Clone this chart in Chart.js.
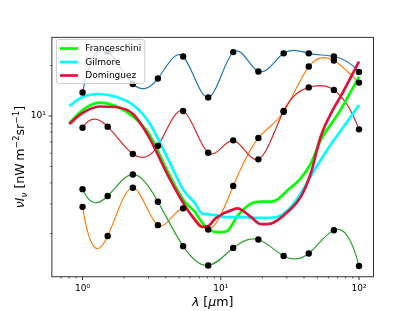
<!DOCTYPE html>
<html>
<head>
<meta charset="utf-8">
<script src="https://cdn.jsdelivr.net/npm/chart.js@4/dist/chart.umd.min.js"></script>
<style>
  html, body { margin: 0; padding: 0; background: #fff; }
</style>
</head>
<body>
<canvas id="myChart" width="415" height="311"></canvas>
<script>
// wavelengths of the measured points (um)
const lambdas = [1, 1.52, 2.31, 3.51, 5.34, 8.11, 12.3, 18.7, 28.5, 43.3, 65.8, 100];

// the four thin spline series (nW m^-2 sr^-1)
const seriesBlue   = [13.8, 24.2, 15.5, 16.7, 22.6, 12.9, 24.0, 18.4, 23.6, 23.6, 22.6, 18.3];
const seriesOrange = [2.88, 1.93, 3.74, 2.24, 2.82, 2.11, 3.83, 7.39, 10.6, 19.7, 21.4, 15.8];
const seriesGreen  = [3.67, 3.34, 4.49, 3.09, 1.68, 1.29, 1.64, 1.84, 1.47, 1.52, 2.09, 1.28];
const seriesRed    = [8.52, 8.64, 5.94, 6.65, 10.7, 6.04, 7.16, 5.52, 10.7, 14.8, 14.3, 8.33];

// EBL models, read along a common wavelength grid
const modelLambdas = [0.8, 1.0, 1.32, 1.73, 2.32, 3.01, 4.19, 5.37, 6.51, 7.27, 8.12, 9.06, 10.1,
                      11.3, 13.3, 14.9, 16.6, 19.6, 23.1, 25.8, 30.5, 37.9, 44.8, 52.8, 65.8, 73.5, 100];
const franceschini = [9.05, 10.86, 12.0, 11.47, 9.90, 7.88, 4.56, 3.16, 2.68, 2.34, 2.12, 2.04, 2.035,
                      2.09, 2.57, 2.82, 3.02, 3.09, 3.09, 3.19, 3.62, 4.25, 5.22, 7.19, 9.47, 10.86, 17.15];
const gilmore      = [11.47, 12.98, 13.52, 13.03, 11.63, 9.21, 5.47, 3.62, 3.02, 2.64, 2.60, 2.57, 2.52,
                      2.50, 2.50, 2.50, 2.48, 2.48, 2.48, 2.51, 2.75, 3.46, 4.39, 5.47, 7.19, 8.14, 11.63];
const dominguez    = [8.96, 10.42, 11.39, 11.31, 10.28, 7.53, 4.35, 3.02, 2.40, 2.19, 2.21, 2.44, 2.59,
                      2.70, 2.82, 2.68, 2.50, 2.27, 2.29, 2.40, 2.69, 3.30, 4.56, 7.53, 11.16, 13.03, 21.07];

const modelNames = ['Franceschini', 'Gilmore', 'Dominguez'];
const modelColors = ['#00ff00', '#00ffff', '#dc143c'];

const xMajor = [1, 10, 100];
const xMinor = [0.7, 0.8, 0.9, 2, 3, 4, 5, 6, 7, 8, 9, 20, 30, 40, 50, 60, 70, 80, 90];
const yMajor = [10];
const yMinor = [2, 3, 4, 5, 6, 7, 8, 9, 20];

function pts(xs, ys) {
    return xs.map((x, i) => ({ x: x, y: ys[i] }));
}

const sup = { '0': '\u2070', '1': '\u00b9', '2': '\u00b2', '3': '\u00b3', '-': '\u207b' };
function tickLabel(v) {
    const e = String(Math.round(Math.log10(v)));
    return '10' + e.split('').map(c => sup[c]).join('');
}

const thin = [
    { data: seriesBlue, color: '#1f77b4' },
    { data: seriesOrange, color: '#ff7f0e' },
    { data: seriesGreen, color: '#2ca02c' },
    { data: seriesRed, color: '#d62728' }
];
const models = [franceschini, gilmore, dominguez];

const datasets = [];
thin.forEach((s, i) => {
    datasets.push({
        data: pts(lambdas, s.data), borderColor: s.color, borderWidth: 1.2,
        pointRadius: 0, tension: 0.4, order: 20 - i, spline: true
    });
});
models.forEach((m, i) => {
    datasets.push({
        label: modelNames[i], data: pts(modelLambdas, m), borderColor: modelColors[i], borderWidth: 2.7,
        pointRadius: 0, cubicInterpolationMode: 'monotone', order: 10 - i
    });
});
thin.forEach((s, i) => {
    datasets.push({
        data: pts(lambdas, s.data), showLine: false, pointRadius: 3.2,
        pointBackgroundColor: '#000', pointBorderWidth: 0, order: 4 - i
    });
});

// not-a-knot cubic spline through the pixel positions, handed to the line as bezier handles
function splineSlopes(xs, ys) {
    const n = xs.length;
    const h = [];
    for (let i = 0; i < n - 1; i++) h.push(xs[i + 1] - xs[i]);
    const A = [], b = [];
    for (let i = 0; i < n; i++) { A.push(new Array(n).fill(0)); b.push(0); }
    A[0][0] = h[1]; A[0][1] = -(h[0] + h[1]); A[0][2] = h[0];
    for (let i = 1; i < n - 1; i++) {
        A[i][i - 1] = h[i - 1]; A[i][i] = 2 * (h[i - 1] + h[i]); A[i][i + 1] = h[i];
        b[i] = 6 * ((ys[i + 1] - ys[i]) / h[i] - (ys[i] - ys[i - 1]) / h[i - 1]);
    }
    A[n - 1][n - 3] = h[n - 2]; A[n - 1][n - 2] = -(h[n - 3] + h[n - 2]); A[n - 1][n - 1] = h[n - 3];
    for (let c = 0; c < n; c++) {
        let p = c;
        for (let r = c + 1; r < n; r++) if (Math.abs(A[r][c]) > Math.abs(A[p][c])) p = r;
        [A[c], A[p]] = [A[p], A[c]]; [b[c], b[p]] = [b[p], b[c]];
        for (let r = c + 1; r < n; r++) {
            const f = A[r][c] / A[c][c];
            for (let k = c; k < n; k++) A[r][k] -= f * A[c][k];
            b[r] -= f * b[c];
        }
    }
    const M = new Array(n).fill(0);
    for (let r = n - 1; r >= 0; r--) {
        let s = b[r];
        for (let k = r + 1; k < n; k++) s -= A[r][k] * M[k];
        M[r] = s / A[r][r];
    }
    const d = [];
    for (let i = 0; i < n - 1; i++) d.push((ys[i + 1] - ys[i]) / h[i] - h[i] * (2 * M[i] + M[i + 1]) / 6);
    d.push((ys[n - 1] - ys[n - 2]) / h[n - 2] + h[n - 2] * (M[n - 2] + 2 * M[n - 1]) / 6);
    return d;
}

const splinePlugin = {
    id: 'splineHandles',
    beforeDatasetDraw(chart, args) {
        const meta = args.meta;
        if (!chart.data.datasets[args.index].spline) return;
        const line = meta.dataset;
        line.updateControlPoints(chart.chartArea, 'x');
        const p = meta.data;
        const d = splineSlopes(p.map(q => q.x), p.map(q => q.y));
        for (let i = 0; i < p.length; i++) {
            const hp = i > 0 ? (p[i].x - p[i - 1].x) / 3 : 0;
            const hn = i < p.length - 1 ? (p[i + 1].x - p[i].x) / 3 : 0;
            p[i].cp1x = p[i].x - hp; p[i].cp1y = p[i].y - d[i] * hp;
            p[i].cp2x = p[i].x + hn; p[i].cp2y = p[i].y + d[i] * hn;
        }
        line._path = undefined;
    }
};

function drawRich(ctx, parts, size, cx, cy, rot) {
    const fontOf = p => (p.it ? 'italic ' : '') + ((p.sup || p.sub) ? size * 0.7 : size) + 'px "DejaVu Sans"';
    let w = 0;
    parts.forEach(p => { ctx.font = fontOf(p); p.w = ctx.measureText(p.t).width; w += p.w; });
    ctx.save();
    ctx.translate(cx, cy);
    ctx.rotate(rot);
    ctx.fillStyle = '#000';
    ctx.textAlign = 'left';
    ctx.textBaseline = 'alphabetic';
    let x = -w / 2;
    parts.forEach(p => {
        ctx.font = fontOf(p);
        const dy = p.sup ? -size * 0.42 : (p.sub ? size * 0.22 : 0);
        ctx.fillText(p.t, x, dy);
        x += p.w;
    });
    ctx.restore();
}

const decorPlugin = {
    id: 'decor',
    afterDatasetsDraw(chart) {
        const ctx = chart.ctx;
        const a = chart.chartArea;
        const sx = chart.scales.x, sy = chart.scales.y;

        // legend
        ctx.save();
        ctx.font = '9px "DejaVu Sans"';
        let tw = 0;
        modelNames.forEach(n => { tw = Math.max(tw, ctx.measureText(n).width); });
        const lx = a.left + 4.5, ly = a.top + 2.2;
        const lw = 3.6 + 18 + 7.2 + tw + 3.6, lh = 44;
        ctx.beginPath();
        ctx.roundRect(lx, ly, lw, lh, 2.5);
        ctx.fillStyle = 'rgba(255,255,255,0.8)';
        ctx.fill();
        ctx.strokeStyle = '#cccccc';
        ctx.lineWidth = 1;
        ctx.stroke();
        modelNames.forEach((n, i) => {
            const yy = ly + 9 + i * 13.5;
            ctx.beginPath();
            ctx.moveTo(lx + 3.6, yy);
            ctx.lineTo(lx + 21.6, yy);
            ctx.strokeStyle = modelColors[i];
            ctx.lineWidth = 2.7;
            ctx.stroke();
            ctx.fillStyle = '#000';
            ctx.textBaseline = 'middle';
            ctx.fillText(n, lx + 28.8, yy + 0.5);
        });
        ctx.restore();

        // frame and ticks
        ctx.save();
        ctx.strokeStyle = '#000';
        ctx.lineWidth = 0.8;
        ctx.strokeRect(a.left, a.top, a.right - a.left, a.bottom - a.top);
        const tick = (x1, y1, x2, y2, w) => {
            ctx.lineWidth = w;
            ctx.beginPath(); ctx.moveTo(x1, y1); ctx.lineTo(x2, y2); ctx.stroke();
        };
        xMajor.forEach(v => { const px = sx.getPixelForValue(v); tick(px, a.bottom, px, a.bottom + 3.2, 0.8); });
        xMinor.forEach(v => { const px = sx.getPixelForValue(v); tick(px, a.bottom, px, a.bottom + 1.8, 0.6); });
        yMajor.forEach(v => { const py = sy.getPixelForValue(v); tick(a.left, py, a.left - 3.2, py, 0.8); });
        yMinor.forEach(v => { const py = sy.getPixelForValue(v); tick(a.left, py, a.left - 1.8, py, 0.6); });
        ctx.restore();

        // axis titles
        drawRich(ctx, [
            { t: '\u03bb', it: true }, { t: ' [' }, { t: '\u03bc', it: true }, { t: 'm]' }
        ], 12.6, (a.left + a.right) / 2, 306, 0);
        drawRich(ctx, [
            { t: '\u03bd', it: true }, { t: 'I', it: true }, { t: '\u03bd', it: true, sub: true },
            { t: ' [nW\u2009m' }, { t: '\u22122', sup: true }, { t: 'sr' }, { t: '\u22121', sup: true }, { t: ']' }
        ], 12.6, 24, (a.top + a.bottom) / 2, -Math.PI / 2);
    }
};

const ctx = document.getElementById('myChart');

new Chart(ctx, {
    type: 'line',
    data: { datasets: datasets },
    plugins: [splinePlugin, decorPlugin],
    options: {
        responsive: false,
        animation: false,
        events: [],
        layout: { padding: { top: 37.3, right: 41.5, left: 0, bottom: 0 } },
        plugins: { legend: { display: false }, tooltip: { enabled: false } },
        scales: {
            x: {
                type: 'logarithmic', min: 0.6285, max: 127.3,
                grid: { display: false, drawTicks: false }, border: { display: false },
                afterBuildTicks: s => { s.ticks = xMajor.map(v => ({ value: v })); },
                afterFit: s => { s.height = 34.2; },
                ticks: { autoSkip: false, maxRotation: 0, padding: 6, color: '#000',
                         font: { family: 'DejaVu Sans', size: 9 }, callback: v => tickLabel(v) }
            },
            y: {
                type: 'logarithmic', min: 1.104, max: 29.4,
                grid: { display: false, drawTicks: false }, border: { display: false },
                afterBuildTicks: s => { s.ticks = yMajor.map(v => ({ value: v })); },
                afterFit: s => { s.width = 51.9; },
                ticks: { autoSkip: false, padding: 6, color: '#000',
                         font: { family: 'DejaVu Sans', size: 9 }, callback: v => tickLabel(v) }
            }
        }
    }
});
</script>
</body>
</html>
